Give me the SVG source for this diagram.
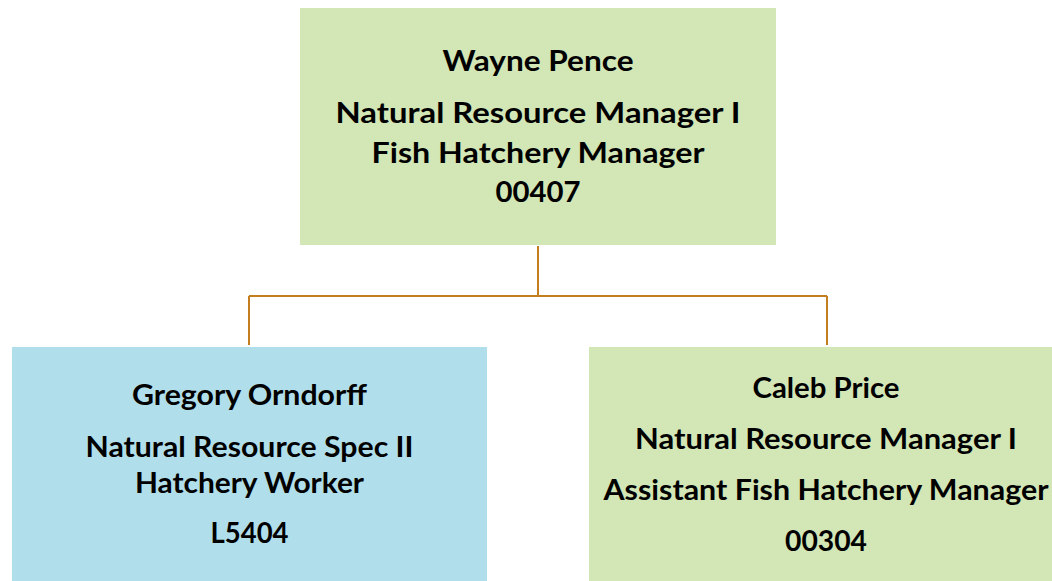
<svg xmlns="http://www.w3.org/2000/svg" width="1052" height="581" viewBox="0 0 1052 581">
<style>
.green{fill:#D2E6B6}
.blue{fill:#B0DEEA}
.t{font-family:Lato,"Open Sans","Liberation Sans",sans-serif;font-weight:bold;font-size:28px;fill:#000;text-anchor:middle}
.c{stroke:#C57E1F;stroke-width:2;fill:none}
</style>
<rect width="1052" height="581" fill="#fff"/>
<g id="connectors">
<path class="c" d="M538 246V296M249 296H827M249 296V345M827 296V345"/>
</g>
<g id="wayne">
<rect class="green" x="300" y="8" width="476" height="237"/>
<text class="t" x="538" y="71" textLength="191" lengthAdjust="spacingAndGlyphs">Wayne Pence</text>
<text class="t" x="538" y="123" textLength="405" lengthAdjust="spacingAndGlyphs">Natural Resource Manager I</text>
<text class="t" x="538" y="163" textLength="333" lengthAdjust="spacingAndGlyphs">Fish Hatchery Manager</text>
<text class="t" x="538" y="202" textLength="85" lengthAdjust="spacingAndGlyphs">00407</text>
</g>
<g id="gregory">
<rect class="blue" x="12" y="347" width="475" height="240"/>
<text class="t" x="249.5" y="405" textLength="235" lengthAdjust="spacingAndGlyphs">Gregory Orndorff</text>
<text class="t" x="249.5" y="457" textLength="328" lengthAdjust="spacingAndGlyphs">Natural Resource Spec II</text>
<text class="t" x="249.5" y="493" textLength="229" lengthAdjust="spacingAndGlyphs">Hatchery Worker</text>
<text class="t" x="249.5" y="543" textLength="78" lengthAdjust="spacingAndGlyphs">L5404</text>
</g>
<g id="caleb">
<rect class="green" x="589" y="347" width="476" height="240"/>
<text class="t" x="826" y="398" textLength="147" lengthAdjust="spacingAndGlyphs">Caleb Price</text>
<text class="t" x="826" y="449" textLength="382" lengthAdjust="spacingAndGlyphs">Natural Resource Manager I</text>
<text class="t" x="826" y="500" textLength="445" lengthAdjust="spacingAndGlyphs">Assistant Fish Hatchery Manager</text>
<text class="t" x="826" y="551" textLength="82" lengthAdjust="spacingAndGlyphs">00304</text>
</g>
</svg>
